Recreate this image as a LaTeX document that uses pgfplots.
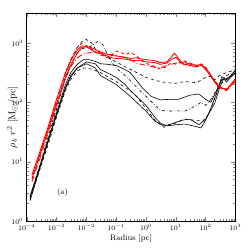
\documentclass[border=0pt]{standalone}
\usepackage{pgfplots}
\pgfplotsset{compat=1.18}
\begin{document}
\begin{tikzpicture}
\useasboundingbox (-26.7pt,-28pt) rectangle (222.3pt,221.3pt);
\begin{axis}[
  at={(0,0)}, anchor=south west,
  scale only axis, width=209pt, height=208pt,
  xmode=log, ymode=log,
  xmin=1e-4, xmax=1e3, ymin=1, ymax=3162,
  xtick={1e-4,1e-3,1e-2,1e-1,1,10,100,1000},
  ytick={1,10,100,1000},
  tick align=inside,
  major tick length=4pt, minor tick length=2pt,
  tick label style={font=\scriptsize},
  xlabel={Radius [pc]},
  ylabel={$\rho_b\ r^2$ [M$_{\odot}$/pc]},
  label style={font=\footnotesize},
  xlabel style={yshift=3pt},
  every axis y label/.style={at={(axis description cs:-0.068,0.5)}, rotate=90, anchor=center},
  axis line style={line width=0.7pt},
  every axis plot/.append style={line join=round, mark=none},
]
% black curves
\addplot[black, line width=0.6pt, dashed] coordinates {
(1.3e-4,2.6) (3e-4,10) (5e-4,24) (1e-3,83) (2e-3,282) (3e-3,501) (5e-3,832) (7e-3,1047) (1e-2,1148) (1.5e-2,1000) (2e-2,794) (3e-2,661) (5e-2,575) (0.1,479) (0.2,398) (0.5,316) (1,263) (2,234) (5,214) (10,209) (20,224) (50,214) (100,263) (150,275) (200,240) (300,282) (500,316) (1000,355)};
\addplot[black, line width=0.6pt, dash dot] coordinates {
(1.3e-4,2.4) (3e-4,9.5) (5e-4,22.4) (1e-3,76) (2e-3,251) (3e-3,437) (5e-3,676) (7e-3,794) (1e-2,832) (1.5e-2,891) (2.5e-2,1072) (3.5e-2,955) (5e-2,661) (7e-2,479) (0.1,380) (0.2,282) (0.5,178) (1,126) (2,89) (3,74) (5,71) (10,72) (20,71) (50,89) (70,100) (100,89) (150,112) (200,141) (300,224) (500,282) (1000,331)};
\addplot[black, line width=0.6pt] coordinates {
(1.3e-4,2.2) (3e-4,8.9) (5e-4,21) (1e-3,66) (2e-3,200) (3e-3,316) (5e-3,437) (8e-3,525) (1.2e-2,525) (2e-2,490) (3e-2,447) (5e-2,437) (0.1,417) (0.2,355) (0.3,316) (0.5,229) (0.8,170) (1.5,126) (3,110) (6,112) (12,112) (30,132) (60,138) (100,112) (150,100) (250,170) (350,240) (500,250) (700,282) (1000,355)};
\addplot[black, line width=0.6pt] coordinates {
(1.3e-4,2.5) (3e-4,9.1) (5e-4,20) (1e-3,63) (2e-3,178) (3e-3,282) (5e-3,380) (1e-2,479) (2e-2,447) (3e-2,355) (5e-2,316) (0.1,263) (0.2,200) (0.3,158) (1,89) (2,56) (3,45) (5,40) (10,42) (20,43) (40,40) (70,37) (100,50) (150,79) (250,158) (350,270) (500,240) (1000,316)};
\addplot[black, line width=0.6pt, dashed] coordinates {
(1.3e-4,2.3) (3e-4,8.3) (5e-4,18) (1e-3,56) (2e-3,158) (3e-3,240) (5e-3,339) (8e-3,380) (1.5e-2,363) (3e-2,316) (0.1,224) (0.2,178) (0.4,141) (1,79) (2,50) (4,38) (10,45) (20,52) (40,50) (80,48) (125,63) (200,112) (300,200) (500,240) (1000,316)};
\addplot[black, line width=0.6pt] coordinates {
(1.3e-4,2.6) (3e-4,9.5) (5e-4,21) (1e-3,60) (2e-3,170) (3e-3,263) (5e-3,380) (1e-2,447) (2e-2,380) (3e-2,282) (0.1,200) (0.3,126) (1,71) (2,48) (4,40) (8,44) (16,50) (30,52) (60,42) (100,52) (200,95) (300,178) (400,250) (500,220) (1000,316)};
% red curves
\addplot[red, line width=0.85pt] coordinates {
(1.5e-4,5.2) (3e-4,14.8) (5e-4,31.6) (1e-3,95) (2e-3,263) (3e-3,417) (5e-3,676) (7e-3,832) (1e-2,871) (1.5e-2,832) (2e-2,776) (3e-2,708) (5e-2,646) (0.07,617) (0.1,603) (0.2,575) (0.3,550) (0.5,562) (0.7,537) (1,525) (2,501) (3,468) (5,479) (7,575) (9,676) (12,562) (15,479) (20,437) (30,417) (50,398) (70,417) (100,380) (150,288) (200,229) (300,182) (500,162) (700,200) (1000,251)};
\addplot[red, line width=0.85pt] coordinates {
(1.5e-4,6.0) (3e-4,16.6) (5e-4,36) (1e-3,112) (2e-3,316) (3e-3,501) (5e-3,759) (7e-3,891) (1e-2,871) (1.5e-2,759) (2e-2,692) (3e-2,661) (5e-2,603) (0.07,562) (0.1,550) (0.2,537) (0.3,513) (0.5,501) (0.7,513) (1,479) (2,468) (3,437) (5,457) (7,525) (10,575) (12,525) (15,457) (20,427) (30,457) (50,417) (70,437) (100,355) (150,275) (200,219) (300,174) (500,166) (700,191) (1000,234)};
\addplot[red, line width=0.85pt, dashed] coordinates {
(1.5e-4,5.0) (3e-4,14.1) (5e-4,31.6) (1e-3,105) (2e-3,316) (3e-3,525) (5e-3,851) (7e-3,977) (1e-2,912) (1.5e-2,794) (2e-2,724) (3e-2,631) (5e-2,562) (0.07,631) (0.1,724) (0.15,692) (0.2,631) (0.3,692) (0.5,603) (0.7,501) (1,457) (2,398) (3,363) (5,398) (7,468) (10,437) (15,479) (20,501) (30,437) (50,417) (70,447) (100,398) (150,288) (200,229) (300,182) (500,166)};
\addplot[red, line width=0.85pt, dash pattern=on 6pt off 2pt on 1pt off 2pt] coordinates {
(1.5e-4,4.6) (3e-4,12.6) (5e-4,28.2) (1e-3,89) (2e-3,251) (3e-3,398) (5e-3,562) (7e-3,631) (1e-2,676) (2e-2,692) (3e-2,676) (5e-2,646) (0.1,617) (0.2,562) (0.3,525) (0.5,457) (1,417) (2,389) (3,380) (5,417) (10,457) (20,479) (30,417) (50,398) (70,427) (100,380) (150,282) (200,229) (300,178) (500,158) (700,186) (1000,229)};
\node[font=\footnotesize] at (axis cs:1.6e-3,3) {(a)};
\end{axis}
\end{tikzpicture}
\end{document}
